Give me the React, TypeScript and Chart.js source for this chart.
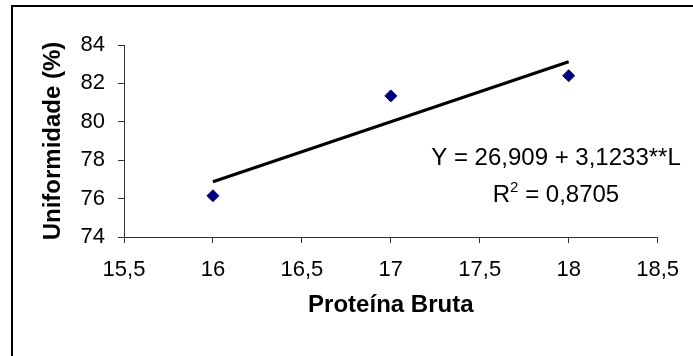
import React, { useEffect, useRef } from "react";
import { Chart, registerables } from "chart.js";

Chart.register(...registerables);

// ---- data ----
const proteinLevels = [16, 17, 18];
const uniformity = [76.15, 81.35, 82.4];
const trendX = [16, 18];
const trendY = [76.88, 83.13];
const xTicks = [15.5, 16, 16.5, 17, 17.5, 18, 18.5];
const yTicks = [74, 76, 78, 80, 82, 84];
const xTitle = "Proteína Bruta";
const yTitle = "Uniformidade (%)";
const equationText = "Y = 26,909 + 3,1233**L";
const r2Base = "R";
const r2Sup = "2";
const r2Rest = " = 0,8705";

const FONT = '"Liberation Sans", Arial, Helvetica, sans-serif';

const fmt = (v: number) => String(v).replace(".", ",");

const equationPlugin = {
  id: "equationText",
  afterDatasetsDraw(chart: any) {
    const { ctx, chartArea } = chart;
    const cx = chartArea.left + 432;
    ctx.save();
    ctx.fillStyle = "#000";
    ctx.textBaseline = "alphabetic";
    ctx.font = `24px ${FONT}`;
    ctx.textAlign = "center";
    ctx.fillText(equationText, cx, chartArea.top + 120);

    // R² line
    ctx.textAlign = "left";
    ctx.font = `24px ${FONT}`;
    const wR = ctx.measureText(r2Base).width;
    const wRest = ctx.measureText(r2Rest).width;
    ctx.font = `15px ${FONT}`;
    const wSup = ctx.measureText(r2Sup).width;
    const total = wR + wSup + wRest;
    let x = cx - total / 2;
    const by = chartArea.top + 157;
    ctx.font = `24px ${FONT}`;
    ctx.fillText(r2Base, x, by);
    x += wR;
    ctx.font = `15px ${FONT}`;
    ctx.fillText(r2Sup, x, by - 10);
    x += wSup;
    ctx.font = `24px ${FONT}`;
    ctx.fillText(r2Rest, x, by);
    ctx.restore();
  },
};

export default function App() {
  const canvasRef = useRef<HTMLCanvasElement | null>(null);

  useEffect(() => {
    document.body.style.margin = "0";
    const canvas = canvasRef.current;
    if (!canvas) return;
    const chart = new Chart(canvas, {
      type: "scatter",
      data: {
        datasets: [
          {
            label: "Trend",
            type: "line",
            data: trendX.map((x, i) => ({ x, y: trendY[i] })),
            borderColor: "#000",
            borderWidth: 3,
            pointRadius: 0,
            fill: false,
            order: 2,
          } as any,
          {
            label: "Uniformidade",
            data: proteinLevels.map((x, i) => ({ x, y: uniformity[i] })),
            pointStyle: "rectRot",
            pointRadius: 6,
            pointHoverRadius: 6,
            backgroundColor: "#000080",
            borderColor: "#000080",
            borderWidth: 1,
            order: 1,
          },
        ],
      },
      options: {
        animation: false,
        responsive: false,
        maintainAspectRatio: false,
        devicePixelRatio: 1,
        layout: { padding: { left: 0, top: 45, right: 33, bottom: 0 } },
        plugins: {
          legend: { display: false },
          tooltip: { enabled: false },
        },
        scales: {
          x: {
            type: "linear",
            min: 15.5,
            max: 18.5,
            afterBuildTicks: (scale: any) => {
              scale.ticks = xTicks.map((v) => ({ value: v }));
            },
            afterFit: (scale: any) => {
              scale.height = 119;
            },
            grid: {
              display: true,
              drawOnChartArea: false,
              drawTicks: true,
              tickLength: 6,
              color: "#333",
              lineWidth: 1,
            },
            border: { display: true, color: "#333", width: 1 },
            ticks: {
              padding: 14,
              color: "#000",
              font: { family: FONT, size: 22 },
              maxRotation: 0,
              callback: (v: any) => fmt(Number(v)),
            },
            title: {
              display: true,
              text: xTitle,
              color: "#000",
              font: { family: FONT, size: 24, weight: "bold" },
              padding: { top: 0, bottom: 36 },
            },
          },
          y: {
            type: "linear",
            min: 74,
            max: 84,
            afterBuildTicks: (scale: any) => {
              scale.ticks = yTicks.map((v) => ({ value: v }));
            },
            afterFit: (scale: any) => {
              scale.width = 124;
            },
            grid: {
              display: true,
              drawOnChartArea: false,
              drawTicks: true,
              tickLength: 6,
              color: "#333",
              lineWidth: 1,
            },
            border: { display: true, color: "#333", width: 1 },
            ticks: {
              padding: 13,
              color: "#000",
              font: { family: FONT, size: 22 },
              callback: (v: any) => fmt(Number(v)),
            },
            title: {
              display: true,
              text: yTitle,
              color: "#000",
              font: { family: FONT, size: 24, weight: "bold" },
              padding: { top: 39, bottom: 0 },
            },
          },
        },
      },
      plugins: [equationPlugin],
    });
    return () => chart.destroy();
  }, []);

  return (
    <div
      style={{
        position: "relative",
        width: 693,
        height: 356,
        overflow: "hidden",
        background: "#fff",
      }}
    >
      <canvas
        ref={canvasRef}
        width={693}
        height={356}
        style={{ position: "absolute", left: 0, top: 0, width: 693, height: 356 }}
      />
      <div
        style={{
          position: "absolute",
          left: 11,
          top: 5,
          width: 900,
          height: 600,
          border: "2px solid #000",
          boxSizing: "border-box",
          pointerEvents: "none",
        }}
      />
    </div>
  );
}
